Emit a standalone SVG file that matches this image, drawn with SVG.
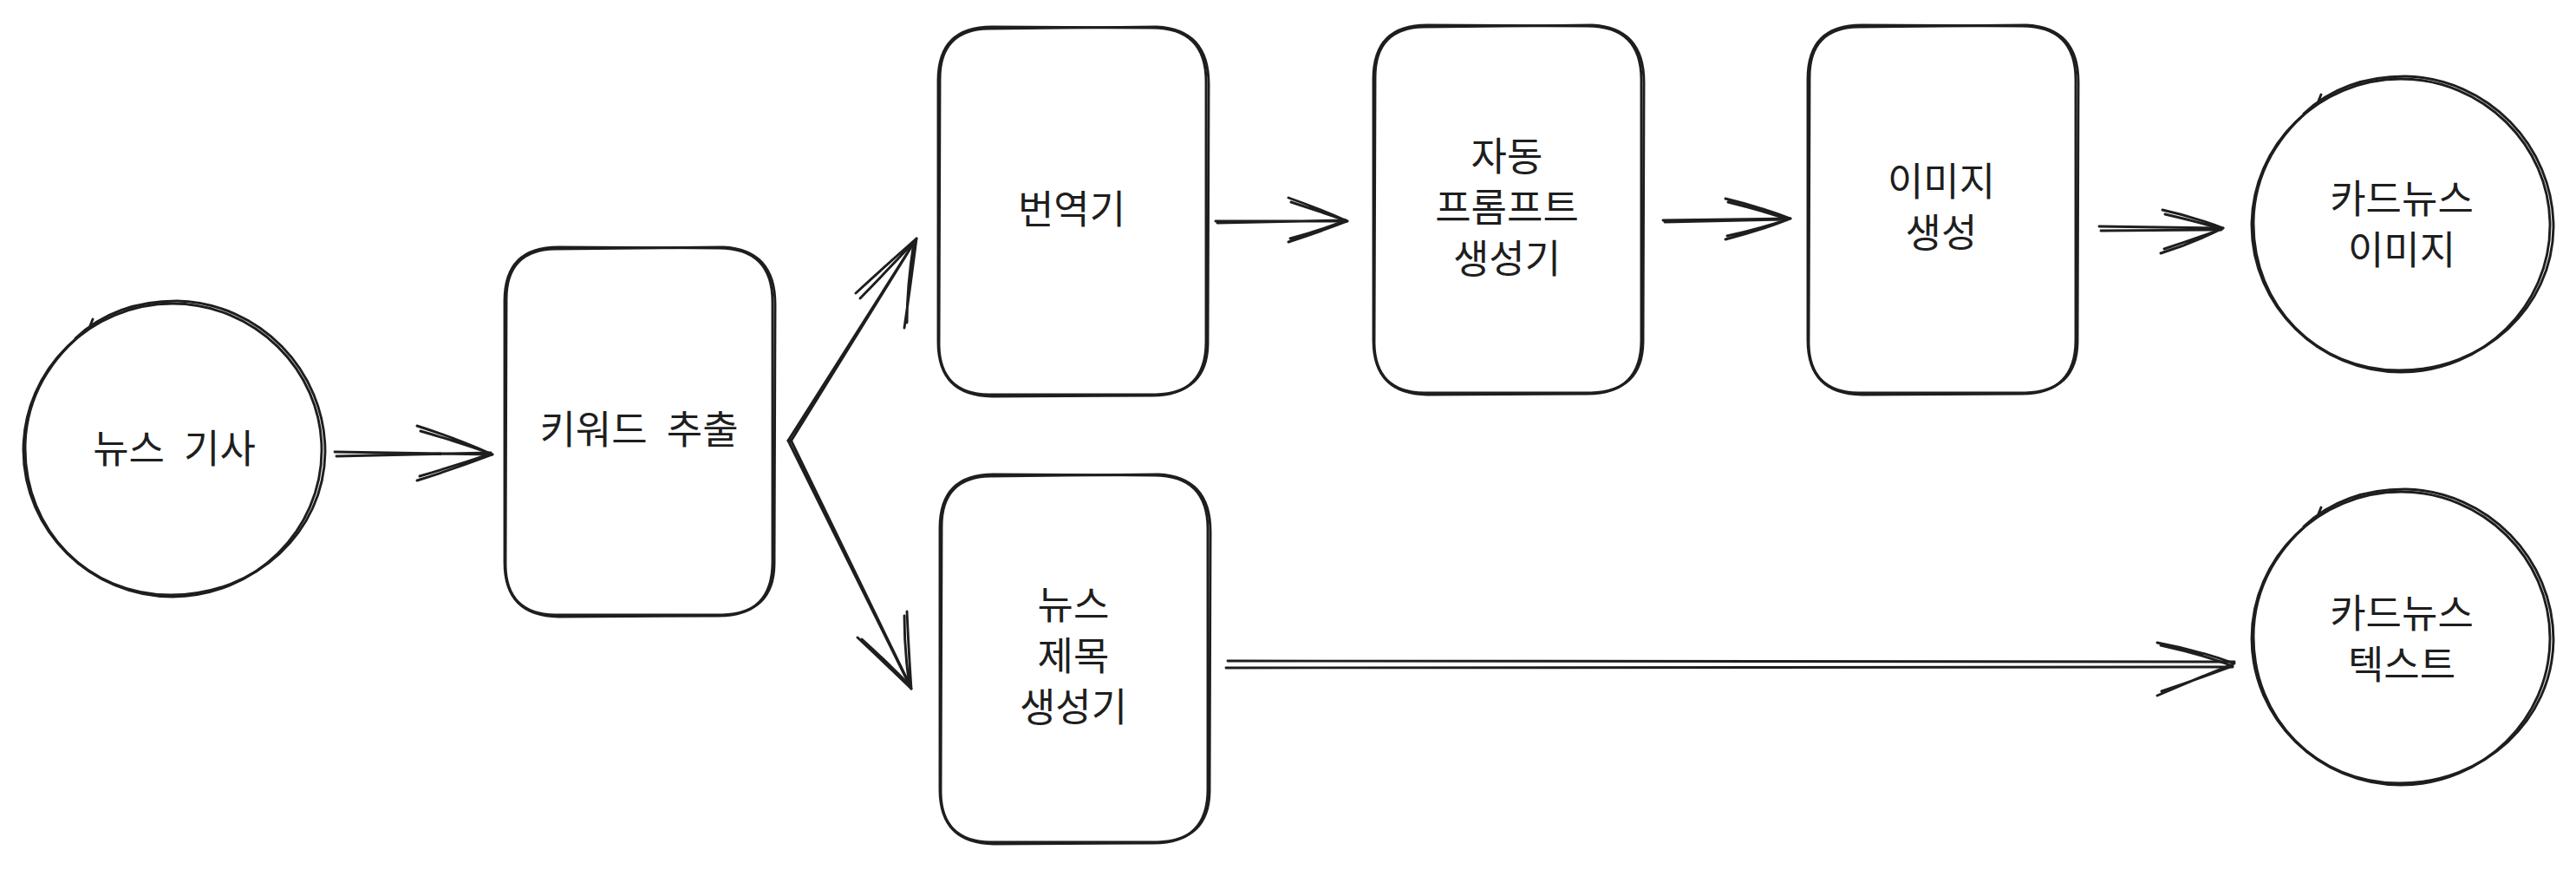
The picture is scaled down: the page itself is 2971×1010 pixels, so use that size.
<svg xmlns="http://www.w3.org/2000/svg" width="2971" height="1010" viewBox="0 0 2971 1010">
<style>
.s{fill:none;stroke:#1e1e1e;stroke-width:2.9;stroke-linecap:round;stroke-linejoin:round}
.t{font-family:"Noto Sans CJK KR","Noto Sans",sans-serif;font-size:45px;fill:#1e1e1e;text-anchor:middle;word-spacing:12px}
</style>
<defs>
<g id="box">
<path class="s" d="M62,0 L247,1 Q309,1 309,63 L309,363 Q309,425 247,425 L62,426 Q0,425 0,363 L0,62 Q0,0 62,0 Z"/>
<path class="s" d="M58,2 L252,0 Q312,3 312,66 L311,366 Q310,422 251,424 L58,424 Q2,423 1,367 L2,60 Q2,3 58,2"/>
</g>
<g id="ell">
<path class="s" d="M0,-169 C94,-169 172,-93 172,0 C172,93 94,169 0,169 C-94,169 -172,93 -172,0 C-172,-93 -94,-169 0,-169 Z"/>
<path class="s" d="M-112,-129 C-80,-159 -40,-172 5,-172 C100,-170 176,-92 176,2 C175,95 96,167 -2,167 C-98,167 -170,92 -170,-2 C-170,-60 -140,-108 -96,-141 L-92,-151"/>
</g>
</defs>
<rect width="2971" height="1010" fill="#ffffff"/>
<g id="connectors">
<path class="s" d="M386,521 L568,524 M388,526 L566,522"/>
<path class="s" d="M481,491 Q528,506 568,524 Q526,540 481,554 M485,497 Q530,510 566,523 Q528,536 484,549"/>
<path class="s" d="M909,508 L1057,275 M912,509 L1054,280"/>
<path class="s" d="M987,338 Q1024,304 1057,275 Q1050,330 1043,378 M992,344 Q1025,310 1054,279 Q1046,330 1046,372"/>
<path class="s" d="M909,508 L1051,794 M912,507 L1049,789"/>
<path class="s" d="M989,735 Q1022,766 1051,794 Q1048,750 1046,705 M994,737 Q1024,764 1049,790 Q1043,752 1043,710"/>
<path class="s" d="M1402,255 L1554,255 M1404,257 L1552,254"/>
<path class="s" d="M1486,228 Q1520,240 1554,255 Q1520,268 1486,279 M1489,233 Q1522,244 1552,254 Q1522,266 1488,275"/>
<path class="s" d="M1918,254 L2065,252 M1920,256 L2062,253"/>
<path class="s" d="M1990,229 Q2028,238 2065,252 Q2030,266 1990,276 M1993,233 Q2030,242 2062,253 Q2028,264 1992,272"/>
<path class="s" d="M2421,261 L2564,263 M2423,266 L2562,265"/>
<path class="s" d="M2494,242 Q2530,250 2564,263 Q2530,280 2492,292 M2497,247 Q2532,255 2562,264 Q2530,276 2496,287"/>
<path class="s" d="M1416,762 L2577,763 M1414,770 L2575,769"/>
<path class="s" d="M2488,741 Q2536,750 2577,765 Q2534,782 2488,802 M2492,744 Q2538,754 2575,768 Q2532,784 2493,797"/>
</g>
<g id="node-news-article"><use href="#ell" x="199" y="519"/><text class="t" x="201" y="534">뉴스 기사</text></g>
<g id="node-keyword"><use href="#box" x="582" y="285"/><text class="t" x="737" y="512">키워드 추출</text></g>
<g id="node-translator"><use href="#box" x="1082" y="31"/><text class="t" x="1236" y="258">번역기</text></g>
<g id="node-prompt"><use href="#box" x="1584" y="29"/><text class="t" x="1738" y="197">자동</text><text class="t" x="1738" y="256">프롬프트</text><text class="t" x="1738" y="315">생성기</text></g>
<g id="node-image-gen"><use href="#box" x="2085" y="29"/><text class="t" x="2239" y="226">이미지</text><text class="t" x="2239" y="285">생성</text></g>
<g id="node-title-gen"><use href="#box" x="1084" y="547"/><text class="t" x="1238" y="714">뉴스</text><text class="t" x="1238" y="773">제목</text><text class="t" x="1238" y="832">생성기</text></g>
<g id="node-card-image"><use href="#ell" x="2769" y="260"/><text class="t" x="2770" y="246">카드뉴스</text><text class="t" x="2770" y="305">이미지</text></g>
<g id="node-card-text"><use href="#ell" x="2769" y="736"/><text class="t" x="2770" y="724">카드뉴스</text><text class="t" x="2770" y="783">텍스트</text></g>
</svg>
